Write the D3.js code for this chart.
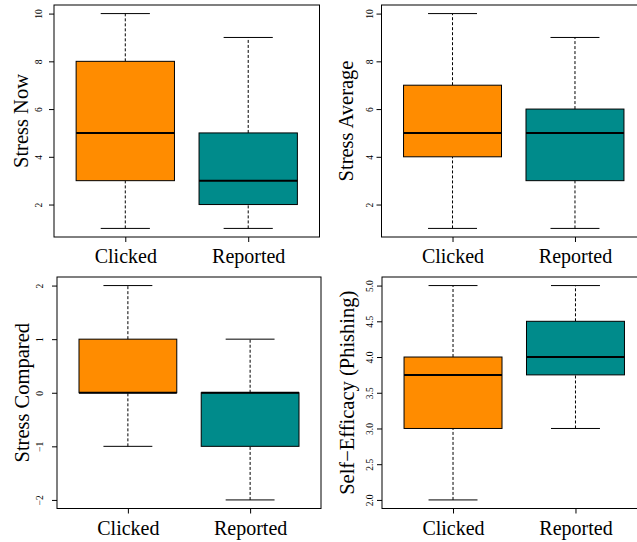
<!DOCTYPE html>
<html>
<head>
<meta charset="utf-8">
<script src="https://cdn.jsdelivr.net/npm/d3@7"></script>
<style>
body { margin: 0; background: #fff; }
svg { display: block; }
text { font-family: "Liberation Serif", "DejaVu Serif", serif; fill: #000; }
</style>
</head>
<body>
<div id="chart"></div>
<script>
// groups shown on every panel
var groups = ["Clicked", "Reported"];
var fills = ["#ff8c00", "#008b8b"];

// five-number summaries: min, q1, median, q3, max
var stressNow = [[1, 3, 5, 8, 10], [1, 2, 3, 5, 9]];
var stressAverage = [[1, 4, 5, 7, 10], [1, 3, 5, 6, 9]];
var stressCompared = [[-1, 0, 0, 1, 2], [-2, -1, 0, 0, 1]];
var selfEfficacy = [[2, 3, 3.75, 4, 5], [3, 3.75, 4, 4.5, 5]];

var ticksStress = [2, 4, 6, 8, 10];
var ticksCompared = [-2, -1, 0, 1, 2];
var ticksEfficacy = [2.0, 2.5, 3.0, 3.5, 4.0, 4.5, 5.0];

var panels = [
    {title: "Stress Now", stats: stressNow, ticks: ticksStress, fmt: d3.format("d"),
     left: 54, right: 319.5, top: 5, bottom: 237, tickOff: 15, titleOff: 33},
    {title: "Stress Average", stats: stressAverage, ticks: ticksStress, fmt: d3.format("d"),
     left: 381.5, right: 646, top: 5, bottom: 237, tickOff: 11.5, titleOff: 36},
    {title: "Stress Compared", stats: stressCompared, ticks: ticksCompared, fmt: d => d < 0 ? "\u2212" + Math.abs(d) : String(d),
     left: 57, right: 321, top: 277, bottom: 508.5, tickOff: 17, titleOff: 35},
    {title: "Self\u2212Efficacy (Phishing)", stats: selfEfficacy, ticks: ticksEfficacy, fmt: d3.format(".1f"),
     left: 382, right: 646.5, top: 277, bottom: 508.5, tickOff: 12, titleOff: 35}
];

var w = 637, h = 542;
var svg = d3.select("#chart").append("svg")
    .attr("width", w).attr("height", h);

panels.forEach(function(p){
    var g = svg.append("g");

    // R style axis extension of 4 percent
    var lo = d3.min(p.stats, s => s[0]), hi = d3.max(p.stats, s => s[4]);
    var pad = (hi - lo) * 0.04;
    var y = d3.scaleLinear().domain([lo - pad, hi + pad]).range([p.bottom, p.top]);
    var x = d3.scaleLinear().domain([0.42, 2.58]).range([p.left, p.right]);
    var bw = x(1.4) - x(1);

    var boxes = g.selectAll("g.box")
        .data(p.stats)
        .enter()
        .append("g")
        .attr("class", "box");

    // whiskers
    boxes.append("line")
        .attr("x1", (d,i) => x(i+1)).attr("x2", (d,i) => x(i+1))
        .attr("y1", d => y(d[0])).attr("y2", d => y(d[1]))
        .attr("stroke", "#000").attr("stroke-dasharray", "3,2");
    boxes.append("line")
        .attr("x1", (d,i) => x(i+1)).attr("x2", (d,i) => x(i+1))
        .attr("y1", d => y(d[3])).attr("y2", d => y(d[4]))
        .attr("stroke", "#000").attr("stroke-dasharray", "3,2");

    // caps
    [0, 4].forEach(function(k){
        boxes.append("line")
            .attr("x1", (d,i) => x(i+1) - bw/2).attr("x2", (d,i) => x(i+1) + bw/2)
            .attr("y1", d => y(d[k])).attr("y2", d => y(d[k]))
            .attr("stroke", "#000");
    });

    boxes.append("rect")
        .attr("x", (d,i) => x(i+1) - bw)
        .attr("width", bw*2)
        .attr("y", d => y(d[3]))
        .attr("height", d => y(d[1]) - y(d[3]))
        .attr("fill", (d,i) => fills[i])
        .attr("stroke", "#000");

    boxes.append("line")
        .attr("x1", (d,i) => x(i+1) - bw).attr("x2", (d,i) => x(i+1) + bw)
        .attr("y1", d => y(d[2])).attr("y2", d => y(d[2]))
        .attr("stroke", "#000").attr("stroke-width", 2);

    // frame
    g.append("rect")
        .attr("x", p.left).attr("y", p.top)
        .attr("width", p.right - p.left).attr("height", p.bottom - p.top)
        .attr("fill", "none").attr("stroke", "#000");

    // y axis
    var ya = g.append("g")
        .attr("transform", "translate(" + p.left + ",0)")
        .call(d3.axisLeft(y).tickValues(p.ticks).tickFormat(p.fmt).tickSize(5).tickSizeOuter(0));
    ya.select(".domain").remove();
    ya.selectAll("text")
        .attr("x", null).attr("dy", null)
        .attr("transform", "translate(" + (-p.tickOff) + ",0) rotate(-90)")
        .attr("text-anchor", "middle")
        .attr("dominant-baseline", "central")
        .style("font-family", "'Liberation Serif', serif")
        .style("font-size", "9.5px");

    // x axis
    var xa = g.append("g")
        .attr("transform", "translate(0," + p.bottom + ")")
        .call(d3.axisBottom(x).tickValues([1, 2]).tickFormat((d,i) => groups[i]).tickSize(5).tickSizeOuter(0));
    xa.select(".domain").remove();
    xa.selectAll("text")
        .attr("y", 26).attr("dy", null)
        .style("font-family", "'Liberation Serif', serif")
        .style("font-size", "20px");

    g.append("text")
        .attr("transform", "translate(" + (p.left - p.titleOff) + "," + ((p.top + p.bottom)/2) + ") rotate(-90)")
        .attr("text-anchor", "middle")
        .attr("dominant-baseline", "central")
        .style("font-size", "20.5px")
        .text(p.title);
});
</script>
</body>
</html>
